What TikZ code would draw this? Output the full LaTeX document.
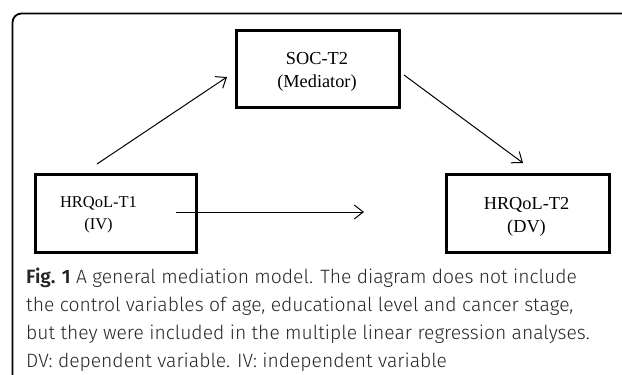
\documentclass[tikz,border=0pt]{standalone}
\usepackage{fontspec}
\setmainfont{Liberation Serif}
\newfontfamily\capfont{Fira Sans Light}[BoldFont=Fira Sans SemiBold]
\usetikzlibrary{arrows.meta}
\begin{document}
\begin{tikzpicture}[x=1pt,y=-1pt,
  varbox/.style={draw=black,line width=3pt,inner sep=0pt},
  conn/.style={line width=1pt,-{Straight Barb[length=9pt,width=14pt,line width=1pt]}},
  boxtext/.style={font=\fontsize{18.3}{23}\selectfont,align=center,anchor=base,inner sep=0pt},
  smallboxtext/.style={boxtext,font=\fontsize{16.5}{22}\selectfont},
  captext/.style={font=\capfont\fontsize{19.3}{28}\selectfont,text=black!85,anchor=base west,inner sep=0pt}]
\useasboundingbox (0,0) rectangle (622,375);
\draw[line width=1.8pt,rounded corners=9pt] (12.5,376) -- (12.5,13.5) -- (623,13.5);
% boxes
\node[varbox,minimum width=163pt,minimum height=77pt] (soc) at (317.5,68.5) {};
\node[varbox,minimum width=161pt,minimum height=78pt] (iv) at (115.5,213) {};
\node[varbox,minimum width=163pt,minimum height=78pt] (dv) at (527.5,213) {};
% text nodes: anchor = baseline of the last line
\node[boxtext] (soct) at (317,87.5) {SOC-T2\\(Mediator)};
\node[smallboxtext] (ivt) at (98.5,229.5) {HRQoL-T1\\(IV)};
\node[boxtext] (dvt) at (526.5,232) {HRQoL-T2\\(DV)};
% connectors
\coordinate (a1) at (97,164);
\coordinate (a2) at (227,77);
\coordinate (b1) at (404,75);
\coordinate (b2) at (523,163);
\coordinate (c1) at (176,212);
\coordinate (c2) at (364,212);
\draw[conn] (a1) -- (a2);
\draw[conn] (b1) -- (b2);
\draw[conn] (c1) -- (c2);
% caption
\node[captext] (cap1) at (26,283) {{\bfseries Fig. 1} A general mediation model. The diagram does not include};
\node[captext] (cap2) at (26,311) {the control variables of age, educational level and cancer stage,};
\node[captext] (cap3) at (26,339) {but they were included in the multiple linear regression analyses.};
\node[captext] (cap4) at (26,367) {DV: dependent variable. IV: independent variable};
\end{tikzpicture}
\end{document}
